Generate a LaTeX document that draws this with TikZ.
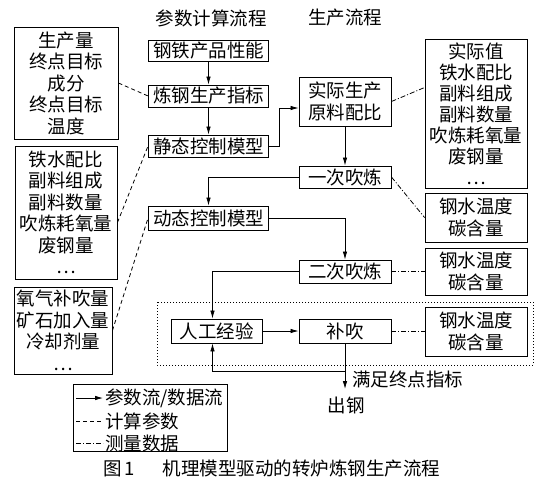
\documentclass[tikz,border=0pt]{standalone}
\usepackage{fontspec}
\setmainfont{Noto Sans CJK SC}
\usetikzlibrary{arrows.meta,calc}
\begin{document}
\begin{tikzpicture}[x=1pt,y=-1pt,
  txt/.style={inner sep=0pt, align=center, font=\fontsize{18.5}{21.5}\selectfont},
  box/.style={txt, draw, line width=0.9pt},
  flow/.style={line width=0.8pt, -{Latex[length=8pt,width=4.5pt]}},
  calcp/.style={line width=0.8pt, dash pattern=on 4pt off 3pt},
  meas/.style={line width=0.8pt, dash pattern=on 5pt off 2pt on 1pt off 2pt},
  dotbox/.style={line width=0.8pt, dash pattern=on 1pt off 2pt}]
\useasboundingbox[fill=white] (0,0) rectangle (546,483);

% headers
\node[txt] (h1) at (211,18) {参数计算流程};
\node[txt] (h2) at (345,18) {生产流程};

% parameter flow column
\node[box, minimum width=120pt, minimum height=21pt] (steel) at (208.5,50.5) {钢铁产品性能};
\node[box, minimum width=120pt, minimum height=22pt] (idx) at (208.5,96) {炼钢生产指标};
\node[box, minimum width=120pt, minimum height=22pt] (stat) at (208.5,146) {静态控制模型};
\node[box, minimum width=120pt, minimum height=24pt] (dyn) at (208.5,218) {动态控制模型};

% production column
\node[box, minimum width=92pt, minimum height=49pt] (act) at (345,101.5) {实际生产\\原料配比};
\node[box, minimum width=92pt, minimum height=22pt] (b1) at (345,177) {一次吹炼};
\node[box, minimum width=92pt, minimum height=23pt] (b2) at (345,271.5) {二次吹炼};
\node[box, minimum width=92pt, minimum height=24pt] (sup) at (345,331) {补吹};
\node[box, minimum width=91pt, minimum height=24pt] (man) at (216.5,331) {人工经验};

% left boxes
\node[box, minimum width=104pt, minimum height=112pt] (l1) at (66,83) {生产量\\终点目标\\成分\\终点目标\\温度};
\node[box, minimum width=102pt, minimum height=133pt] (l2) at (66,212.5) {铁水配比\\副料组成\\副料数量\\吹炼耗氧量\\废钢量\\…};
\node[box, minimum width=98pt, minimum height=87pt] (l3) at (63,330.5) {氧气补吹量\\矿石加入量\\冷却剂量\\…};

% right boxes
\node[box, minimum width=102pt, minimum height=149pt, font=\fontsize{18.5}{21}\selectfont] (r1) at (476,113.5) {实际值\\铁水配比\\副料组成\\副料数量\\吹炼耗氧量\\废钢量\\…};
\node[box, minimum width=102pt, minimum height=49pt] (m1) at (476,217.5) {钢水温度\\碳含量};
\node[box, minimum width=102pt, minimum height=47pt] (m2) at (476,271.5) {钢水温度\\碳含量};
\node[box, minimum width=102pt, minimum height=49pt] (m3) at (476,331.5) {钢水温度\\碳含量};

% dotted region
\draw[dotbox] (157,302) rectangle (533,365);
\coordinate (dotb) at (345,365);
\coordinate (outend) at (345,389);

% parameter / data flow
\draw[flow] (steel) -- (idx);
\draw[flow] (idx) -- (stat);
\draw[flow] (stat.east) -- ++(10,0) |- ($(act.west)+(0,6.5)$);
\draw[flow] (act) -- (b1);
\draw[flow] (b1.west) -| (dyn.north);
\draw[flow] (dyn.east) -| (b2.north);
\draw[flow] (b2.west) -| ($(man.north)+(-4,0)$);
\draw[flow] (man) -- (sup);
\draw[flow] (sup.south) -- ++(0,28) -| ($(man.south)+(-4,0)$);
\draw[flow] (dotb) -- (outend);
\node[txt, anchor=west] (ok) at (352,379) {满足终点指标};
\node[txt] (tap) at (346,405) {出钢};

% calculation parameters
\draw[calcp] (l1.east) -- (idx.west);
\draw[calcp] ($(l2.east)+(0,10)$) -- (stat.west);
\draw[calcp] (l3.east) -- (dyn.west);

% measured data
\draw[meas] (act.east) -- ($(r1.west)+(0,-26)$);
\draw[meas] (b1.east) -- (m1.west);
\draw[meas] (b2.east) -- (m2.west);
\draw[meas] (sup.east) -- (sup.east -| m3.west);

% legend
\draw[line width=0.9pt] (73,384) rectangle (227,451);
\coordinate (la1) at (76,398); \coordinate (lb1) at (103,398);
\coordinate (la2) at (76,421); \coordinate (lb2) at (103,421);
\coordinate (la3) at (76,443); \coordinate (lb3) at (103,443);
\draw[flow] (la1) -- (lb1);
\draw[calcp] (la2) -- (lb2);
\draw[meas] (la3) -- (lb3);
\node[txt, anchor=west] (lg1) at (105,398) {参数流/数据流};
\node[txt, anchor=west] (lg2) at (105,421) {计算参数};
\node[txt, anchor=west] (lg3) at (105,443) {测量数据};

% caption
\node[txt, anchor=west] (cap) at (103,468) {图\,1\hspace{1.5em}机理模型驱动的转炉炼钢生产流程};
\end{tikzpicture}
\end{document}
